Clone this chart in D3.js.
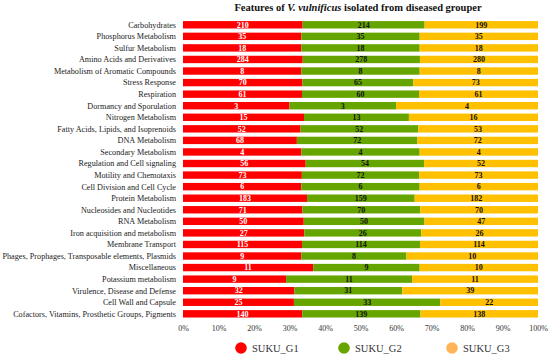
<!DOCTYPE html>
<html>
<head>
<meta charset="utf-8">
<script src="https://cdn.jsdelivr.net/npm/d3@7"></script>
<style>
  body { margin: 0; background: #fff; }
  svg { display: block; font-family: "Liberation Serif", "Times New Roman", serif; }
</style>
</head>
<body>
<div id="chart"></div>
<script>
// chart data
var categories = [
    "Carbohydrates", "Phosphorus Metabolism", "Sulfur Metabolism",
    "Amino Acids and Derivatives", "Metabolism of Aromatic Compounds",
    "Stress Response", "Respiration", "Dormancy and Sporulation",
    "Nitrogen Metabolism", "Fatty Acids, Lipids, and Isoprenoids",
    "DNA Metabolism", "Secondary Metabolism", "Regulation and Cell signaling",
    "Motility and Chemotaxis", "Cell Division and Cell Cycle",
    "Protein Metabolism", "Nucleosides and Nucleotides", "RNA Metabolism",
    "Iron acquisition and metabolism", "Membrane Transport",
    "Phages, Prophages, Transposable elements, Plasmids", "Miscellaneous",
    "Potassium metabolism", "Virulence, Disease and Defense",
    "Cell Wall and Capsule", "Cofactors, Vitamins, Prosthetic Groups, Pigments"
];
var g1 = [210, 35, 18, 284, 8, 70, 61, 3, 15, 52, 68, 4, 56, 73, 6, 183, 71, 50, 27, 115, 9, 11, 9, 32, 25, 140];
var g2 = [214, 35, 18, 278, 8, 65, 60, 3, 13, 52, 72, 4, 54, 72, 6, 159, 70, 50, 26, 114, 8, 9, 11, 31, 33, 139];
var g3 = [199, 35, 18, 280, 8, 73, 61, 4, 16, 53, 72, 4, 52, 73, 6, 182, 70, 47, 26, 114, 10, 10, 11, 39, 22, 138];
var seriesNames = ["SUKU_G1", "SUKU_G2", "SUKU_G3"];
var xTicks = [0, 0.1, 0.2, 0.3, 0.4, 0.5, 0.6, 0.7, 0.8, 0.9, 1];

var w = 550, h = 360;
var barColors = ["#ff0000", "#66a500", "#ffc000"];
var legendColors = ["#ff0000", "#66a500", "#ffb45a"];
var textColors = ["#ffffff", "#111111", "#111111"];

var svg = d3.select("#chart").append("svg")
    .attr("width", w)
    .attr("height", h);

// one row per category, with the three groups as columns
var rows = categories.map(function(c, i) {
    return { cat: c, SUKU_G1: g1[i], SUKU_G2: g2[i], SUKU_G3: g3[i] };
});

var stack = d3.stack().keys(seriesNames).offset(d3.stackOffsetExpand);
var layers = stack(rows);

var x = d3.scaleLinear().domain([0, 1]).range([183, 538]);
var y = d3.scaleBand().domain(categories).range([19, 319.6])
    .paddingInner(0.36).paddingOuter(0.18);

// title
var title = svg.append("text")
    .attr("x", 358).attr("y", 11)
    .attr("text-anchor", "middle")
    .attr("font-size", 10.5)
    .attr("font-weight", "bold")
    .attr("fill", "#111");
title.append("tspan").text("Features of ");
title.append("tspan").attr("font-style", "italic").text("V. vulnificus");
title.append("tspan").text(" isolated from diseased grouper");

// stacked bars
var layer = svg.selectAll("g.layer")
    .data(layers)
    .enter().append("g")
    .attr("class", "layer")
    .attr("fill", function(d, i) { return barColors[i]; });

layer.selectAll("rect")
    .data(function(d) { return d; })
    .enter().append("rect")
    .attr("x", function(d) { return x(d[0]); })
    .attr("y", function(d) { return y(d.data.cat); })
    .attr("width", function(d) { return x(d[1]) - x(d[0]); })
    .attr("height", y.bandwidth());

// value labels in the middle of each segment
layers.forEach(function(l, i) {
    svg.append("g").selectAll("text")
        .data(l)
        .enter().append("text")
        .attr("x", function(d) { return (x(d[0]) + x(d[1])) / 2; })
        .attr("y", function(d) { return y(d.data.cat) + y.bandwidth() / 2; })
        .attr("dy", "0.35em")
        .attr("text-anchor", "middle")
        .attr("font-size", 8)
        .attr("font-weight", "bold")
        .attr("fill", textColors[i])
        .text(function(d) { return d.data[l.key]; });
});

// category labels
svg.append("g").selectAll("text")
    .data(categories)
    .enter().append("text")
    .attr("x", 176)
    .attr("y", function(d) { return y(d) + y.bandwidth() / 2; })
    .attr("dy", "0.35em")
    .attr("text-anchor", "end")
    .attr("font-size", 8.2)
    .attr("fill", "#222")
    .text(function(d) { return d; });

// percent axis, no lines
var axis = svg.append("g")
    .attr("transform", "translate(0,322)")
    .call(d3.axisBottom(x).tickValues(xTicks).tickFormat(d3.format(".0%")).tickSize(0).tickPadding(3));
axis.select(".domain").remove();
axis.selectAll("text")
    .attr("font-family", "Liberation Serif, serif")
    .attr("font-size", 8)
    .attr("fill", "#333");

// legend
var legendX = [241, 344, 452];
var legend = svg.append("g").selectAll("g")
    .data(seriesNames)
    .enter().append("g")
    .attr("transform", function(d, i) { return "translate(" + legendX[i] + ",348)"; });
legend.append("circle")
    .attr("r", 5.8)
    .attr("fill", function(d, i) { return legendColors[i]; });
legend.append("text")
    .attr("x", 11)
    .attr("dy", "0.35em")
    .attr("font-size", 10.5)
    .attr("fill", "#333")
    .text(function(d) { return d; });
</script>
</body>
</html>
